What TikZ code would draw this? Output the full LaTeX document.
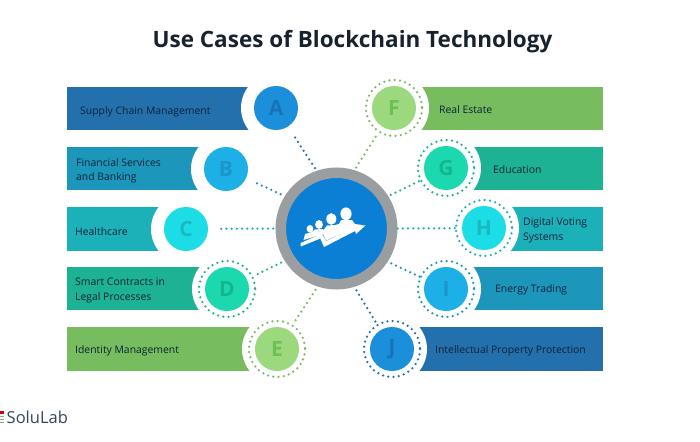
\documentclass[tikz,border=0pt]{standalone}
\usepackage{fontspec}
\setmainfont{Open Sans}
\definecolor{blueBar}{HTML}{2470AD}
\definecolor{blueDisc}{HTML}{1B8FD9}
\definecolor{blueLetter}{HTML}{1673BB}
\definecolor{skyBar}{HTML}{1C97BB}
\definecolor{skyDisc}{HTML}{1CB0E6}
\definecolor{skyLetter}{HTML}{1A97C8}
\definecolor{cyanBar}{HTML}{1CB0B8}
\definecolor{cyanDisc}{HTML}{1CDDE6}
\definecolor{cyanLetter}{HTML}{1AB8C0}
\definecolor{tealBar}{HTML}{1CB293}
\definecolor{tealDisc}{HTML}{1CD8AE}
\definecolor{tealLetter}{HTML}{14B690}
\definecolor{greenBar}{HTML}{77BC5F}
\definecolor{greenDisc}{HTML}{9BD87E}
\definecolor{greenLetter}{HTML}{6FC052}
\definecolor{hubBlue}{HTML}{0A7FD3}
\definecolor{hubGray}{HTML}{9B9EA1}
\definecolor{inkDark}{HTML}{0C2238}
\definecolor{inkTitle}{HTML}{18222E}
\definecolor{inkLogo}{HTML}{34465A}
\tikzset{
  halo/.style={circle,fill=white,minimum size=70pt,inner sep=0pt},
  disc/.style={circle,minimum size=44pt,inner sep=0pt,font=\fontsize{21}{21}\selectfont\bfseries},
  ring/.style={line width=2.5pt,line cap=round,dash pattern=on 0pt off 5.3pt},
  link/.style={line width=2.5pt,line cap=round,dash pattern=on 0pt off 5.2pt},
  label/.style={anchor=west,align=left,inner sep=0pt,text=inkDark,font=\fontsize{10.4}{14.5}\selectfont},
}
\begin{document}
\begin{tikzpicture}[x=1pt,y=-1pt]
\useasboundingbox (0,0) rectangle (700,441);
\node[anchor=center,inner sep=0pt,text=inkTitle,font=\fontsize{22.5}{24}\selectfont\bfseries] (title) at (352.5,41.5) {Use Cases of Blockchain Technology};
% The bars
\fill[blueBar] (67,87) rectangle (276,130);
\fill[skyBar] (67,147) rectangle (226,190);
\fill[cyanBar] (67,207) rectangle (186,251);
\fill[tealBar] (67,267) rectangle (227,310);
\fill[greenBar] (67,327) rectangle (277,371);
\fill[greenBar] (394,87) rectangle (603,130);
\fill[tealBar] (446,147) rectangle (603,190);
\fill[cyanBar] (484,207) rectangle (603,251);
\fill[skyBar] (446,267) rectangle (603,310);
\fill[blueBar] (392,327) rectangle (603,371);
% The white cuts
\node[halo] (haloA) at (276,108) {};
\node[halo] (haloB) at (226,169) {};
\node[halo] (haloC) at (186,229) {};
\node[halo] (haloD) at (227,289) {};
\node[halo] (haloE) at (277,349) {};
\node[halo] (haloF) at (394,108) {};
\node[halo] (haloG) at (446,168) {};
\node[halo] (haloH) at (484,228) {};
\node[halo] (haloI) at (446,289) {};
\node[halo] (haloJ) at (392,349) {};
% The letters
\node[disc,fill=blueDisc,text=blueLetter] (discA) at (haloA) {A};
\node[disc,fill=skyDisc,text=skyLetter] (discB) at (haloB) {B};
\node[disc,fill=cyanDisc,text=cyanLetter] (discC) at (haloC) {C};
\node[disc,fill=tealDisc,text=tealLetter] (discD) at (haloD) {D};
\node[disc,fill=greenDisc,text=greenLetter] (discE) at (haloE) {E};
\node[disc,fill=greenDisc,text=greenLetter] (discF) at (haloF) {F};
\node[disc,fill=tealDisc,text=tealLetter] (discG) at (haloG) {G};
\node[disc,fill=cyanDisc,text=cyanLetter] (discH) at (haloH) {H};
\node[disc,fill=skyDisc,text=skyLetter] (discI) at (haloI) {I};
\node[disc,fill=blueDisc,text=blueLetter] (discJ) at (haloJ) {J};
% The dotted rings
\draw[ring,tealBar] (haloD) circle (28);
\draw[ring,greenBar] (haloE) circle (28);
\draw[ring,greenBar] (haloF) circle (28);
\draw[ring,cyanBar] (haloH) circle (28);
\draw[ring,tealBar] (haloG) circle (28);
\draw[ring,skyBar] (haloI) circle (28);
\draw[ring,blueBar] (haloJ) circle (28);
% The hub
\node[circle,fill=hubBlue,draw=hubGray,line width=10.5pt,minimum size=111.5pt,inner sep=0pt,outer sep=5.25pt] (hub) at (336.5,228.5) {};
% The people
\fill[white] (310,228.8) ellipse (3.4 and 3.8);
\fill[white] (319,224.5) ellipse (3.9 and 4.4);
\fill[white] (331.3,219) ellipse (5 and 5.8);
\fill[white] (346,213.8) ellipse (5.6 and 6.4);
\fill[white] (303.5,240) -- (305,234) -- (312,232) -- (315,229.5) -- (323,229) -- (325,233) -- (320,235) -- cycle;
\fill[white] (322,232) -- (327,225.5) -- (335,225) -- (339,224) -- (341,220) -- (352,220) -- (355,224) -- (362,225) -- (326,240.5) -- cycle;
\fill[white] (300.7,243) -- (300.7,246.5) -- (320.3,238.5) -- (324,247) -- (355,231) -- (356,234) -- (365.5,225.5) -- (352.5,224.5) -- (353.5,228) -- (326,241) -- (322,233.5) -- cycle;
% The connectors
\draw[link,blueBar,shorten <=13pt] (discA) -- (hub.109);
\draw[link,skyBar,shorten <=12pt] (discB) -- (hub.148);
\draw[link,cyanBar,shorten <=13pt] (discC) -- (hub.180);
\draw[link,tealBar,shorten <=12pt] (discD) -- (hub.212);
\draw[link,greenBar,shorten <=12pt] (discE) -- (hub.252);
\draw[link,greenBar,shorten <=12pt] (discF) -- (hub.73);
\draw[link,tealBar,shorten <=8pt] (discG) -- (hub.32);
\draw[link,cyanBar,shorten <=7pt] (discH) -- (hub.0);
\draw[link,skyBar,shorten <=7pt] (discI) -- (hub.327);
\draw[link,blueBar,shorten <=10pt] (discJ) -- (hub.287);
% The labels
\node[label] (textA) at (80,111.5) {Supply Chain Management};
\node[label] (textB) at (76,171) {Financial Services\\and Banking};
\node[label] (textC) at (75,231.5) {Healthcare};
\node[label] (textD) at (75,290.5) {Smart Contracts in\\Legal Processes};
\node[label] (textE) at (75,350.5) {Identity Management};
\node[label] (textF) at (439,109.5) {Real Estate};
\node[label] (textG) at (493,170) {Education};
\node[label] (textH) at (523,230.5) {Digital Voting\\Systems};
\node[label] (textI) at (495,289.5) {Energy Trading};
\node[label] (textJ) at (435,350.5) {Intellectual Property Protection};
% The logo
\fill[red!80!black] (0,411) rectangle (3.5,414);
\fill[hubGray] (0,415.5) rectangle (3.5,417);
\fill[hubGray] (0,418.5) rectangle (3.5,420);
\fill[hubGray] (0,421.5) rectangle (3.5,423);
\node[anchor=west,inner sep=0pt,text=inkLogo,font=\fontsize{16.5}{20}\selectfont] (logo) at (6.5,417.5) {SoluLab};
\end{tikzpicture}
\end{document}
